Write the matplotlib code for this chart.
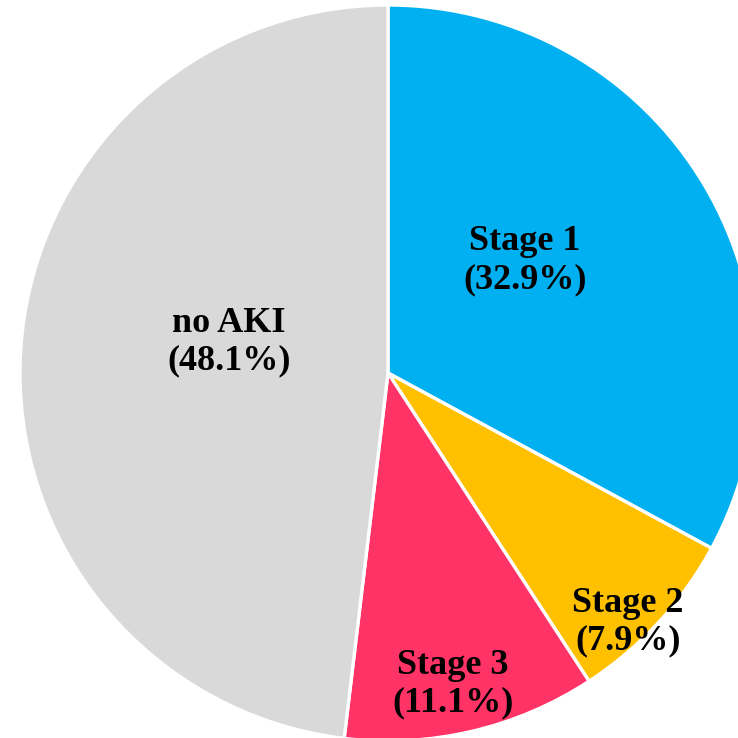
import matplotlib
matplotlib.use("Agg")
import matplotlib.pyplot as plt

categories = ["Stage 1", "Stage 2", "Stage 3", "no AKI"]
shares = [32.9, 7.9, 11.1, 48.1]
colors = ["#00B0F0", "#FFC000", "#FF3366", "#D9D9D9"]
label_xy = [(525, 261), (628, 622), (453, 684), (229, 342)]

fig = plt.figure(figsize=(7.38, 7.38), dpi=100)
ax = fig.add_axes([0, 0, 1, 1])

cx, cy, r = 388, 365, 368
ax.pie(shares, colors=colors, startangle=90, counterclock=False,
       center=(cx, cy), radius=r,
       wedgeprops=dict(edgecolor="white", linewidth=2.4))

for name, val, (x, y) in zip(categories, shares, label_xy):
    ax.text(x, 738 - y, f"{name}\n({val:.1f}%)", ha="center", va="center",
            family="Liberation Serif", weight="bold", fontsize=26,
            linespacing=1.2, color="black")

ax.set_xlim(0, 738)
ax.set_ylim(0, 738)
ax.set_aspect("equal")
ax.axis("off")
fig.savefig("out.png", dpi=100)
